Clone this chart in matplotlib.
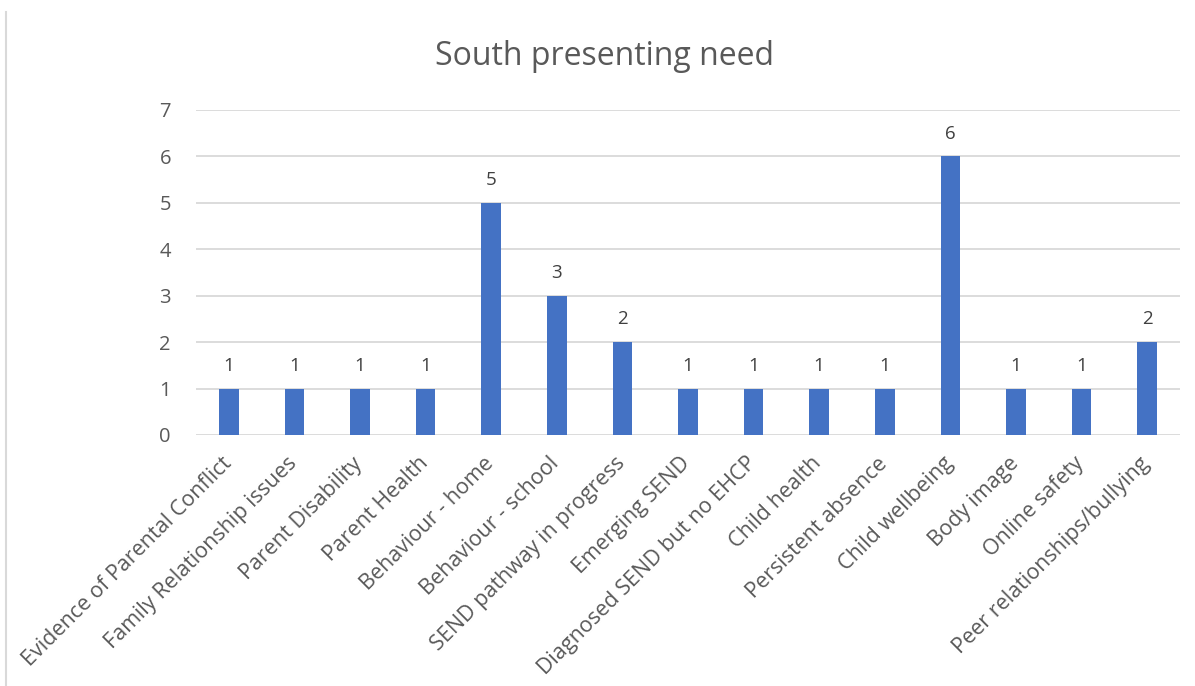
import matplotlib.pyplot as plt
from matplotlib.lines import Line2D
from matplotlib.transforms import ScaledTranslation

categories = [
    "Evidence of Parental Conflict",
    "Family Relationship issues",
    "Parent Disability",
    "Parent Health",
    "Behaviour - home",
    "Behaviour - school",
    "SEND pathway in progress",
    "Emerging SEND",
    "Diagnosed SEND but no EHCP",
    "Child health",
    "Persistent absence",
    "Child wellbeing",
    "Body image",
    "Online safety",
    "Peer relationships/bullying",
]
counts = [1, 1, 1, 1, 5, 3, 2, 1, 1, 1, 1, 6, 1, 1, 2]
y_ticks = [0, 1, 2, 3, 4, 5, 6, 7]

BAR = "#4472C4"
TEXT = "#595959"
GRID = "#D9D9D9"

plt.rcParams["font.family"] = ["Open Sans", "DejaVu Sans"]

fig = plt.figure(figsize=(11.95, 6.86), dpi=100)
ax = fig.add_axes([0.164, 0.3659, 0.8234, 0.4738])

x = range(len(categories))
bars = ax.bar(x, counts, width=0.3, color=BAR, zorder=3)
for rect, v in zip(bars, counts):
    ax.annotate(str(v), (rect.get_x() + rect.get_width() / 2, v),
                xytext=(0, 10), textcoords="offset points",
                ha="center", va="bottom", fontsize=13.5, color="#404040")

ax.set_xlim(-0.5, len(categories) - 0.5)
ax.set_ylim(0, 7)
ax.set_yticks(y_ticks)
ax.yaxis.grid(True, color=GRID, linewidth=1.3, zorder=0)
ax.tick_params(axis="y", length=0, pad=18, labelsize=14.5, labelcolor=TEXT)
ax.tick_params(axis="x", length=0, pad=13, labelsize=15.5, labelcolor=TEXT)
ax.set_xticks(list(x))
ax.set_xticklabels(categories, rotation=45, ha="right", rotation_mode="anchor")
# nudge the slanted labels a little to the left
shift = ScaledTranslation(-8 / 100, 0, fig.dpi_scale_trans)
for lbl in ax.get_xticklabels():
    lbl.set_transform(lbl.get_transform() + shift)
for s in ax.spines.values():
    s.set_visible(False)

fig.text(0.506, 0.918, "South presenting need", ha="center", va="center",
         fontsize=23, color=TEXT)

# chart frame edge on the left
fig.add_artist(Line2D([6 / 1195, 6 / 1195], [0, 1 - 12 / 686],
                      transform=fig.transFigure, color=GRID, linewidth=1.5))

fig.savefig("out.png", dpi=100)
